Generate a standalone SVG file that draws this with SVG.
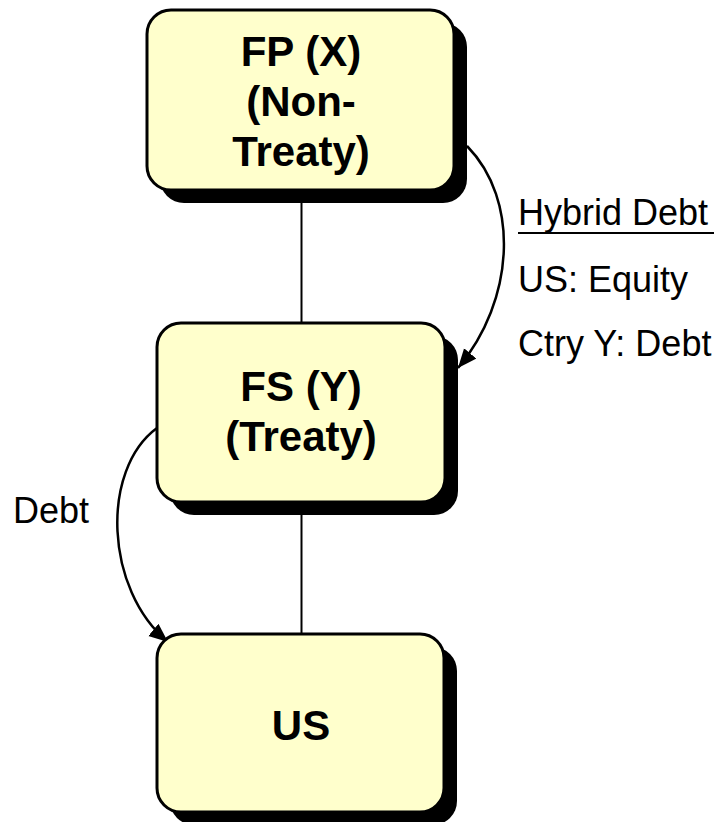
<svg xmlns="http://www.w3.org/2000/svg" width="723" height="822" viewBox="0 0 723 822">
  <style>
    .shadow { fill: #000000; }
    .box { fill: #FFFFCC; stroke: #000000; stroke-width: 3; }
    .title { font-family: "Liberation Sans", Arial, sans-serif; font-weight: bold; font-size: 42px; fill: #000000; text-anchor: middle; }
    .note { font-family: "Liberation Sans", Arial, sans-serif; font-size: 36px; fill: #000000; }
    .link { fill: none; stroke: #000000; stroke-width: 2; }
    .flow { fill: none; stroke: #000000; stroke-width: 2.5; marker-end: url(#arrow); }
  </style>
  <defs>
    <marker id="arrow" markerUnits="userSpaceOnUse" markerWidth="22" markerHeight="18" refX="19" refY="8" orient="auto">
      <path d="M0,0 L19,8 L0,16 Z" fill="#000000"/>
    </marker>
  </defs>

  <rect width="723" height="822" fill="#FFFFFF"/>

  <!-- connectors -->
  <g id="connectors">
    <line class="link" x1="301.5" y1="195" x2="301.5" y2="323"/>
    <line class="link" x1="301.5" y1="505" x2="301.5" y2="634"/>
    <path class="flow" d="M467,146 C520,200 515,300 458,368"/>
    <path class="flow" d="M157,428 C100,470 105,590 168,642"/>
  </g>

  <!-- parent -->
  <g id="fp">
    <rect class="shadow" x="160" y="23" width="307" height="180" rx="24"/>
    <rect class="box" x="147" y="10" width="307" height="180" rx="24"/>
    <text class="title" x="301" y="66">FP (X)</text>
    <text class="title" x="301" y="116">(Non-</text>
    <text class="title" x="301" y="166">Treaty)</text>
  </g>

  <!-- subsidiary -->
  <g id="fs">
    <rect class="shadow" x="170" y="336" width="288" height="179" rx="24"/>
    <rect class="box" x="157" y="323" width="288" height="179" rx="24"/>
    <text class="title" x="301" y="401">FS (Y)</text>
    <text class="title" x="301" y="451">(Treaty)</text>
  </g>

  <!-- US entity -->
  <g id="us">
    <rect class="shadow" x="170" y="647" width="287" height="178" rx="24"/>
    <rect class="box" x="157" y="634" width="287" height="178" rx="24"/>
    <text class="title" x="301" y="740">US</text>
  </g>

  <!-- labels -->
  <g id="hybrid-label">
    <text class="note" x="518" y="225">Hybrid Debt</text>
    <line x1="518" y1="233" x2="714" y2="233" stroke="#000000" stroke-width="2"/>
    <text class="note" x="518" y="292">US: Equity</text>
    <text class="note" x="518" y="356">Ctry Y: Debt</text>
  </g>
  <g id="debt-label">
    <text class="note" x="13" y="523">Debt</text>
  </g>
</svg>
